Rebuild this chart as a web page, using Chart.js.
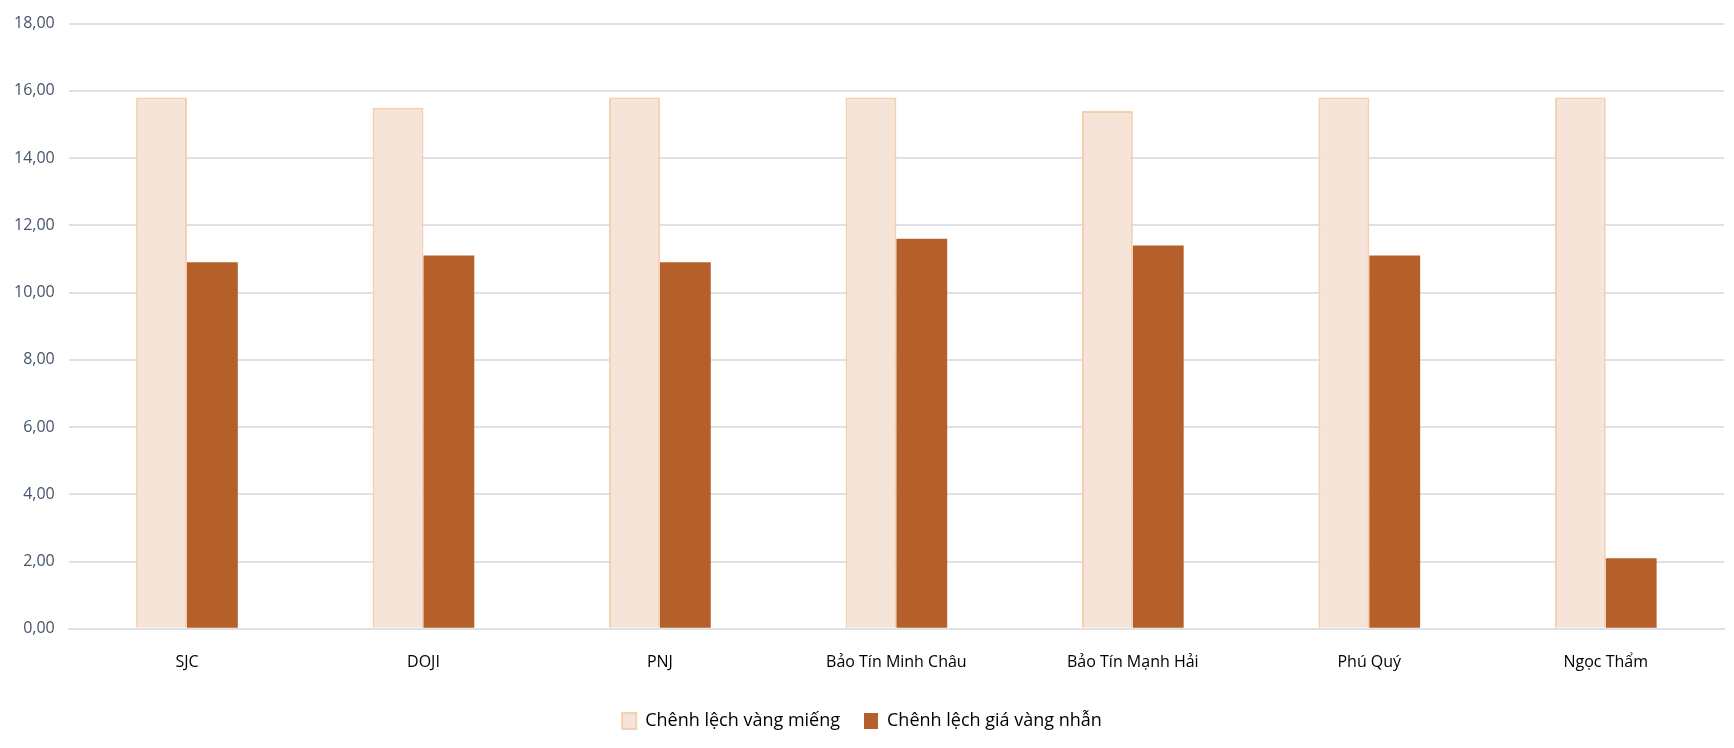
<!DOCTYPE html>
<html>
<head>
<meta charset="utf-8">
<script src="https://cdn.jsdelivr.net/npm/chart.js@4"></script>
<style>
  html, body { margin: 0; padding: 0; background: #fff; }
  #wrap { width: 1734px; height: 748px; }
</style>
</head>
<body>
<div id="wrap"><canvas id="goldChart"></canvas></div>
<script>
const brands = ['SJC', 'DOJI', 'PNJ', 'Bảo Tín Minh Châu', 'Bảo Tín Mạnh Hải', 'Phú Quý', 'Ngọc Thẩm'];
const barGap = [15.8, 15.5, 15.8, 15.8, 15.4, 15.8, 15.8];
const ringGap = [10.9, 11.1, 10.9, 11.6, 11.4, 11.1, 2.1];
const seriesNames = ['Chênh lệch vàng miếng', 'Chênh lệch giá vàng nhẫn'];

Chart.defaults.font.family = '"Open Sans", "Noto Sans", sans-serif';
Chart.defaults.font.size = 16;
Chart.defaults.color = '#000';

const ctx = document.getElementById('goldChart').getContext('2d');
new Chart(ctx, {
  type: 'bar',
  data: {
    labels: brands,
    datasets: [{
      label: seriesNames[0],
      data: barGap,
      backgroundColor: '#f6e4d8',
      borderColor: '#f4cfb0',
      borderWidth: 2,
      categoryPercentage: 0.43,
      barPercentage: 1.0
    }, {
      label: seriesNames[1],
      data: ringGap,
      backgroundColor: '#b5602a',
      borderWidth: 0,
      categoryPercentage: 0.43,
      barPercentage: 1.0
    }]
  },
  options: {
    responsive: true,
    maintainAspectRatio: false,
    animation: false,
    layout: { padding: { top: 12, right: 10, bottom: 8, left: 0 } },
    scales: {
      y: {
        min: 0,
        max: 18,
        ticks: {
          stepSize: 2,
          color: '#44546a',
          padding: 14,
          callback: v => v.toFixed(2).replace('.', ',')
        },
        grid: { color: '#dfe1e6', lineWidth: 2, drawTicks: false },
        border: { display: false }
      },
      x: {
        ticks: { color: '#000', padding: 16 },
        grid: { display: false },
        border: { color: '#dfe1e6', width: 2 }
      }
    },
    plugins: {
      legend: {
        position: 'bottom',
        labels: { boxWidth: 14, boxHeight: 16, padding: 24, color: '#000', font: { size: 18 } }
      },
      tooltip: { enabled: false }
    }
  }
});
</script>
</body>
</html>
